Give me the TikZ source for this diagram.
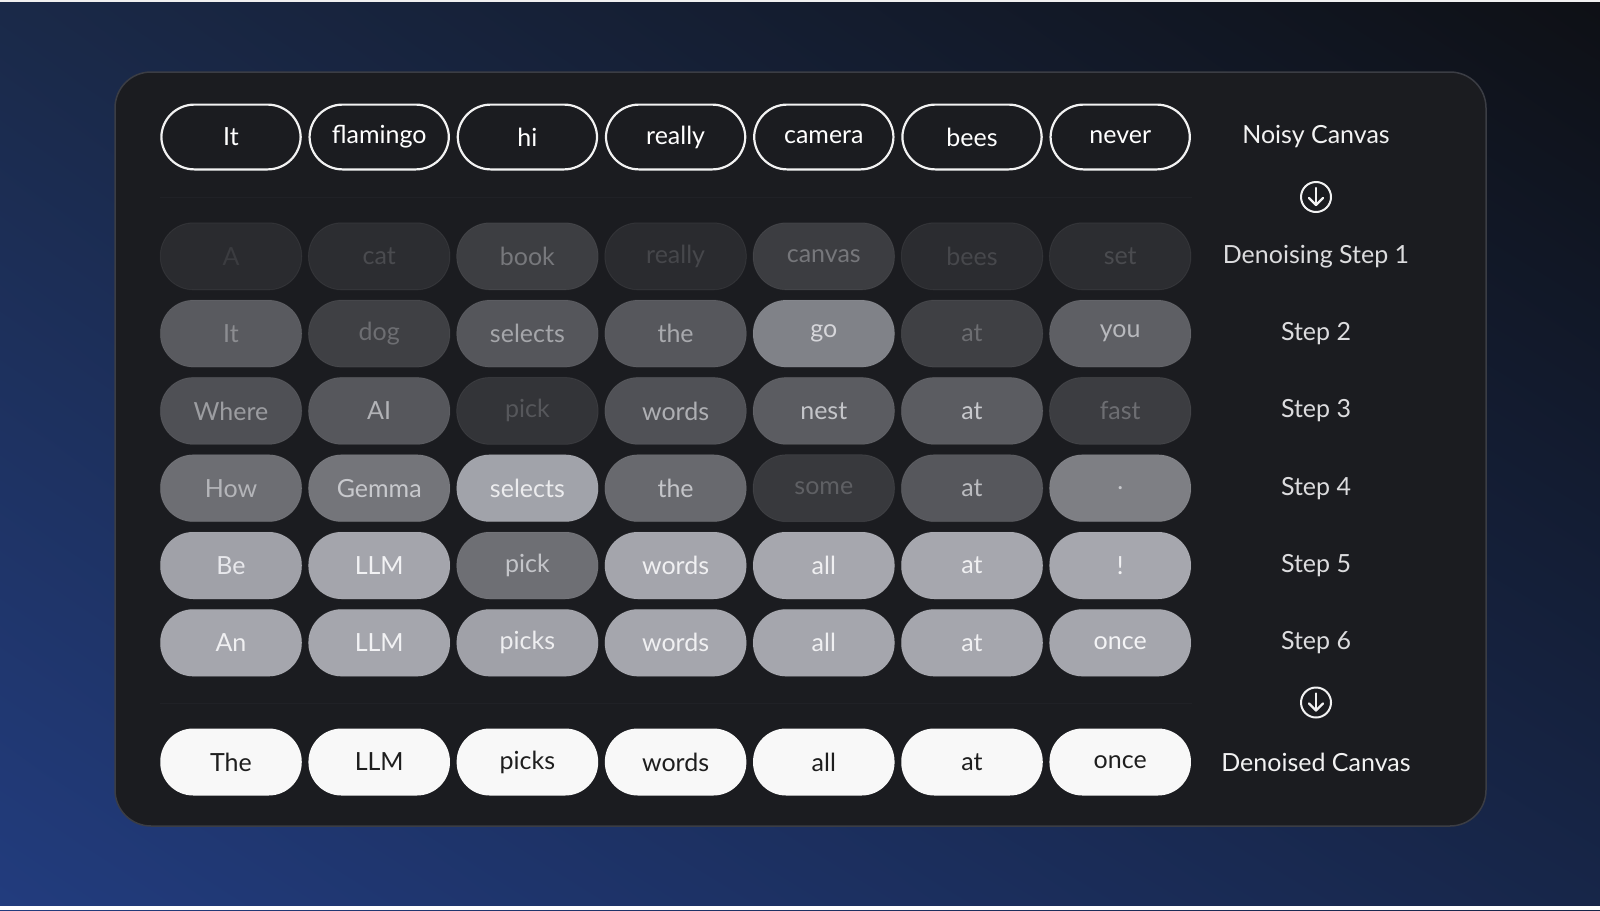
\documentclass[tikz,border=0pt]{standalone}
\usepackage{fontspec}
\setmainfont{Lato}
\usetikzlibrary{calc,shadings}
\definecolor{bgUL}{HTML}{1A2948}
\definecolor{bgUR}{HTML}{0E1015}
\definecolor{bgLL}{HTML}{223C7E}
\definecolor{bgLR}{HTML}{172649}
\definecolor{panelfill}{HTML}{1B1C20}
\definecolor{panelline}{HTML}{3B3D44}
\definecolor{sepcol}{HTML}{202126}
\definecolor{lblwhite}{HTML}{F2F2F2}
\definecolor{lblgray}{HTML}{DCDCDE}
\definecolor{finalfill}{HTML}{F8F8F8}
\definecolor{finaltext}{HTML}{1E1E1E}
\tikzset{
  pill/.style={rectangle, rounded corners=33pt, minimum width=141.5pt,
    minimum height=67pt, inner sep=0pt,
    font=\fontsize{25}{30}\selectfont},
  noisypill/.style={pill, draw=lblwhite, line width=2.2pt, text=white,
    minimum width=139.3pt, minimum height=64.8pt},
  graypill/.style={pill, draw=white, draw opacity=0.06, line width=1pt},
  finalpill/.style={pill, fill=finalfill, text=finaltext},
  lbl/.style={font=\fontsize{25}{30}\selectfont, inner sep=0pt},
  iconcirc/.style={circle, draw=lblwhite, line width=2pt, minimum size=30pt, inner sep=0pt},
  iconline/.style={draw=lblwhite, line width=2.2pt, line cap=round, line join=round},
  sepline/.style={draw=sepcol, line width=1pt},
  panel/.style={fill=panelfill, draw=panelline, line width=1.5pt, rounded corners=36pt}
}
\begin{document}
\begin{tikzpicture}[x=1pt,y=-1pt]
\useasboundingbox (0,0) rectangle (1600,910);
% background
\shade[upper left=bgUL, upper right=bgUR, lower left=bgLL, lower right=bgLR] (0,0) rectangle (1600,910);
\fill[white!88!gray] (0,0) rectangle (1600,1.5);
\fill[white] (0,906) rectangle (1600,910);
% panel
\path[panel] (115,72) rectangle (1486,826);
% separators
\coordinate (s1a) at (160,197); \coordinate (s1b) at (1192,197);
\coordinate (s2a) at (160,703); \coordinate (s2b) at (1192,703);
\draw[sepline] (s1a) -- (s1b);
\draw[sepline] (s2a) -- (s2b);
% noisy row
\foreach \w [count=\i] in {It,flamingo,hi,really,camera,bees,never}
  \node[noisypill] (n\i) at ({231+148.2*(\i-1)},137) {\w};
% denoising steps
\foreach \r/\row in {
 1/{A/2A2B2F/3B3C40,cat/2C2D31/4A4B4F,book/3D3E42/77787C,really/2A2B2F/46474B,canvas/3C3D41/76777B,bees/2B2C30/47484C,set/2C2D31/4A4B4F},
 2/{It/595A5F/8C8D91,dog/3F4044/6D6E72,selects/55565B/A5A6AA,the/56575C/A8A9AD,go/808288/D6D6DA,at/3F4044/6C6D71,you/5E5F64/B8B9BD},
 3/{Where/4F5055/9C9DA1,AI/56575C/B2B3B7,pick/333438/56575B,words/505156/AEAFB3,nest/5B5C61/C4C5C9,at/5B5C61/C8C9CD,fast/3C3D41/6D6E72},
 4/{How/6D6E73/B4B5B9,Gemma/74757A/C8C9CD,selects/A1A3AA/ECECEE,the/68696E/C4C5C9,some/38393D/5F6064,at/56575C/BBBCC0,./7E7F84/C8C9CD},
 5/{Be/A0A1A8/E8E8EC,LLM/A4A5AC/F2F2F4,pick/6E6F74/C4C5C9,words/A4A5AC/F0F0F2,all/A6A7AE/F0F0F2,at/A6A7AE/F0F0F2,!/A6A7AE/F0F0F2},
 6/{An/A5A6AD/F0F0F2,LLM/A5A6AD/F2F2F4,picks/A0A1A8/EEEEF0,words/A5A6AD/F0F0F2,all/A5A6AD/F0F0F2,at/A5A6AD/F0F0F2,once/A5A6AD/F4F4F6}}
{
  \foreach \w/\f/\t [count=\i] in \row {
    \definecolor{pf}{HTML}{\f}\definecolor{pt}{HTML}{\t}
    \node[graypill, fill=pf, text=pt] (s\r c\i) at ({231+148.2*(\i-1)},{256.3+77.3*(\r-1)}) {\w};
  }
}
% final row
\foreach \w [count=\i] in {The,LLM,picks,words,all,at,once}
  \node[finalpill] (f\i) at ({231+148.2*(\i-1)},762) {\w};
% labels
\node[lbl, text=lblwhite] (l0) at (1316,137) {Noisy Canvas};
\node[lbl, text=lblgray] (l1) at (1316,256.3) {Denoising Step 1};
\node[lbl, text=lblgray] (l2) at (1316,333.6) {Step 2};
\node[lbl, text=lblgray] (l3) at (1316,410.9) {Step 3};
\node[lbl, text=lblgray] (l4) at (1316,488.2) {Step 4};
\node[lbl, text=lblgray] (l5) at (1316,565.5) {Step 5};
\node[lbl, text=lblgray] (l6) at (1316,642.8) {Step 6};
\node[lbl, text=lblwhite] (l7) at (1316,762) {Denoised Canvas};
% arrow icons
\foreach \k/\y in {1/197,2/702.5} {
  \node[iconcirc] (ic\k) at (1316,\y) {};
  \draw[iconline] ($(ic\k.center)+(0,-9)$) -- ($(ic\k.center)+(0,8)$);
  \draw[iconline] ($(ic\k.center)+(-7,1)$) -- ($(ic\k.center)+(0,8)$) -- ($(ic\k.center)+(7,1)$);
}
\end{tikzpicture}
\end{document}
